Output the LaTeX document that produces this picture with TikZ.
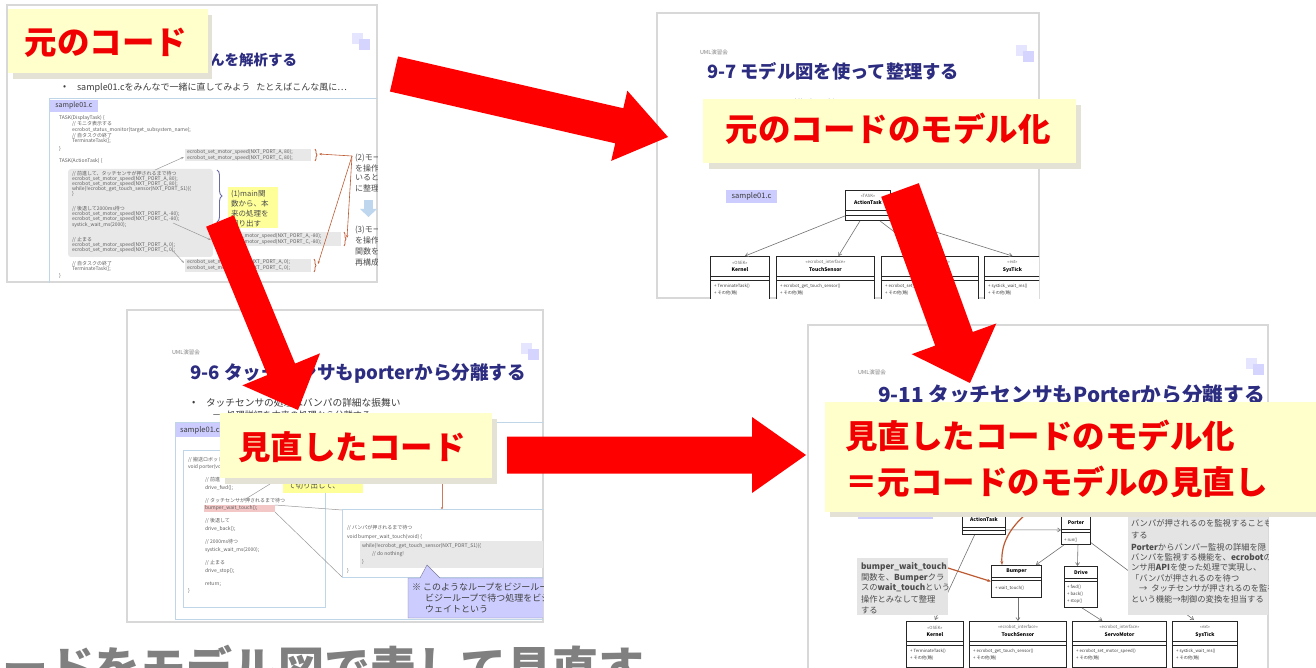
\documentclass[tikz,border=0pt]{standalone}
\usepackage{fontspec}
\setmainfont{Noto Sans CJK JP}
\usetikzlibrary{calc,arrows.meta,decorations.pathreplacing}
\definecolor{arrowred}{RGB}{255,0,0}
\definecolor{lblyellow}{RGB}{255,255,204}
\definecolor{lblshadow}{RGB}{228,226,212}
\definecolor{lbltext}{RGB}{240,0,0}
\definecolor{framegray}{RGB}{216,216,216}
\definecolor{navy}{RGB}{44,44,128}
\definecolor{codegray}{RGB}{95,95,95}
\definecolor{bodytext}{RGB}{60,60,60}
\definecolor{codebox}{RGB}{190,214,232}
\definecolor{codefill}{RGB}{232,232,232}
\definecolor{lav}{RGB}{204,204,255}
\definecolor{notey}{RGB}{255,255,153}
\definecolor{notegray}{RGB}{228,228,228}
\definecolor{rust}{RGB}{190,90,50}
\definecolor{iconblue}{RGB}{190,215,238}
\definecolor{pinkhl}{RGB}{244,199,199}
\definecolor{titlegray}{RGB}{128,128,128}
\newcounter{tn}
\newcommand\puttext[4][]{\stepcounter{tn}\node[tx,#1] (n\arabic{tn}) at (#2,#3) {#4};}
\newcommand\cl[3]{\puttext[code]{#1}{#2}{#3}}
\newcommand\decor[2]{\fill[lav!50] (#1,#2) rectangle ++(11,11); \fill[lav!85] ($(#1,#2)+(7,6)$) rectangle ++(11,11);}
\newcommand\blockarrow[5]{%
  \coordinate (#1-s) at ($(#2)!#5!(#1)$);
  \fill[arrowred] ($(#1)!#3!90:(#2)$) -- ($(#1-s)!#3!90:(#2)$) -- ($(#1-s)!#4!90:(#2)$) -- (#2)
    -- ($(#1-s)!#4!-90:(#2)$) -- ($(#1-s)!#3!-90:(#2)$) -- ($(#1)!#3!-90:(#2)$) -- cycle;}
\newcommand\umlclass[9]{%
  \node[umlbox, minimum width=#4, minimum height=#5, anchor=north west] (#1) at (#2,#3) {};
  \node[umlst] (#1-st) at ($(#1.north)+(0,6.5)$) {#6};
  \node[umlnm] (#1-nm) at ($(#1.north)+(0,14)$) {#7};
  \draw[umlsep] ($(#1.north west)+(0,20)$) -- ($(#1.north east)+(0,20)$);
  \draw[umlsep] ($(#1.north west)+(0,24)$) -- ($(#1.north east)+(0,24)$);
  \node[umlop] (#1-o1) at ($(#1.north west)+(4,30)$) {#8};
  \node[umlop] (#1-o2) at ($(#1.north west)+(4,37)$) {#9};}
\tikzset{
  tx/.style={inner sep=0pt, outer sep=0pt, anchor=west},
  code/.style={font=\fontsize{5}{5}\selectfont, text=codegray},
  bodytx/.style={text=bodytext},
  stitle/.style={text=navy, font=\bfseries\fontsize{18.3}{20}\selectfont},
  smalltxt/.style={text=black!50, font=\fontsize{5.5}{6}\selectfont},
  umlbox/.style={draw=black!85, line width=0.9pt, fill=white, inner sep=0pt},
  umlst/.style={inner sep=0pt, font=\fontsize{4.3}{5}\selectfont, text=black!60},
  umlnm/.style={inner sep=0pt, font=\bfseries\fontsize{5}{6}\selectfont},
  umlop/.style={inner sep=0pt, anchor=west, font=\fontsize{4.3}{5}\selectfont, text=black!75},
  umlsep/.style={black!85, line width=0.6pt},
  umlarr/.style={draw=black!55, line width=0.6pt, -{Straight Barb[length=3pt,width=4pt]}},
  conn/.style={draw=black!40, line width=0.5pt},
  slideframe/.style={draw=framegray, line width=1.3pt, fill=white},
  codeborder/.style={draw=codebox, line width=1pt},
  lblbox/.style={fill=lblyellow, inner sep=0pt},
  lblshade/.style={fill=lblshadow},
  lbltx/.style={inner sep=0pt, text=lbltext, font=\bfseries\fontsize{32.5}{44}\selectfont},
  notetx/.style={font=\fontsize{8.3}{9}\selectfont, text=black!70},
}
\begin{document}
\begin{tikzpicture}[x=1pt,y=-1pt]
\useasboundingbox (0,0) rectangle (1316,668);
\fill[white] (0,0) rectangle (1316,668);

% ================= Slide 1 =================
\draw[slideframe] (7,5) rectangle (377,282);
\begin{scope}
\clip (7,5) rectangle (377,282);
\decor{352}{33}
\puttext[stitle, font=\bfseries\fontsize{14.5}{16}\selectfont, anchor=east]{297}{60}{んを解析する}
\puttext[bodytx, font=\fontsize{9}{10}\selectfont]{63}{88}{•}
\puttext[bodytx, font=\fontsize{9}{10}\selectfont]{77}{88}{sample01.cをみんなで一緒に直してみよう\hspace{6pt}たとえばこんな風に…}
\draw[codeborder] (49,99) rectangle (385,300);
\fill[lav] (50,100) rectangle (98,112);
\puttext[bodytx, anchor=center, font=\fontsize{7}{8}\selectfont]{74}{106}{sample01.c}
\cl{59}{118}{TASK(DisplayTask) \{}
\cl{72}{124}{// モニタ表示する}
\cl{72}{130}{ecrobot\_status\_monitor(target\_subsystem\_name);}
\cl{72}{136}{// 自タスクの終了}
\cl{72}{141}{TerminateTask();}
\cl{59}{149}{\}}
\cl{59}{161}{TASK(ActionTask) \{}
\fill[codefill, rounded corners=3pt] (68,169) rectangle (213,257);
\cl{72}{174}{// 前進して、タッチセンサが押されるまで待つ}
\cl{72}{179}{ecrobot\_set\_motor\_speed(NXT\_PORT\_A, 80);}
\cl{72}{184}{ecrobot\_set\_motor\_speed(NXT\_PORT\_C, 80);}
\cl{72}{189}{while(!ecrobot\_get\_touch\_sensor(NXT\_PORT\_S1))\{}
\cl{72}{194}{\}}
\cl{72}{209}{// 後退して2000ms待つ}
\cl{72}{214}{ecrobot\_set\_motor\_speed(NXT\_PORT\_A, -80);}
\cl{72}{219}{ecrobot\_set\_motor\_speed(NXT\_PORT\_C, -80);}
\cl{72}{225}{systick\_wait\_ms(2000);}
\cl{72}{240}{// 止まる}
\cl{72}{245}{ecrobot\_set\_motor\_speed(NXT\_PORT\_A, 0);}
\cl{72}{250}{ecrobot\_set\_motor\_speed(NXT\_PORT\_C, 0);}
\cl{72}{264}{// 自タスクの終了}
\cl{72}{269}{TerminateTask();}
\cl{59}{276}{\}}
% snippets
\fill[codefill] (185,149) rectangle (311,161);
\cl{187}{152}{ecrobot\_set\_motor\_speed(NXT\_PORT\_A, 80);}
\cl{187}{158}{ecrobot\_set\_motor\_speed(NXT\_PORT\_C, 80);}
\draw[rust, line width=0.8pt, decorate, decoration={brace, amplitude=2pt}] (315,149) -- (315,161);
\fill[codefill] (210,232) rectangle (341,246);
\cl{214}{236}{ecrobot\_set\_motor\_speed(NXT\_PORT\_A, -80);}
\cl{214}{242}{ecrobot\_set\_motor\_speed(NXT\_PORT\_C, -80);}
\draw[rust, line width=0.8pt, decorate, decoration={brace, amplitude=2pt}] (344,232) -- (344,246);
\fill[codefill] (185,259) rectangle (311,272);
\cl{187}{262}{ecrobot\_set\_motor\_speed(NXT\_PORT\_A, 0);}
\cl{187}{268}{ecrobot\_set\_motor\_speed(NXT\_PORT\_C, 0);}
\draw[rust, line width=0.8pt, decorate, decoration={brace, amplitude=2pt}] (314,259) -- (314,272);
\draw[conn, -{Stealth[length=3pt]}] (155,170) -- (184,157);
\draw[conn, -{Stealth[length=3pt]}] (173,223) -- (211,240);
\draw[conn, -{Stealth[length=3pt]}] (172,250) -- (184,263);
\draw[draw=navy!70, line width=0.9pt, decorate, decoration={brace, amplitude=5pt}] (217,170) -- (217,222);
\fill[notey] (228,187) rectangle (278,228);
\puttext[notetx, font=\fontsize{7.5}{8}\selectfont]{231}{194}{(1)main関}
\puttext[notetx, font=\fontsize{7.5}{8}\selectfont]{231}{204}{数から、本}
\puttext[notetx, font=\fontsize{7.5}{8}\selectfont]{231}{214}{来の処理を}
\puttext[notetx, font=\fontsize{7.5}{8}\selectfont]{231}{224}{切り出す}
\draw[rust, line width=0.6pt, -{Stealth[length=3pt]}] (352,156) -- (319,154);
\draw[rust, line width=0.6pt, -{Stealth[length=3pt]}] (352,156) -- (347,238);
\draw[rust, line width=0.6pt, -{Stealth[length=3pt]}] (352,156) -- (318,264);
\puttext[notetx, font=\fontsize{8}{9}\selectfont]{355}{158}{(2)モータ}
\puttext[notetx, font=\fontsize{8}{9}\selectfont]{355}{168}{を操作して}
\puttext[notetx, font=\fontsize{8}{9}\selectfont]{355}{178}{いると}
\puttext[notetx, font=\fontsize{8}{9}\selectfont]{355}{188}{に整理}
\fill[iconblue] (364,200) rectangle (373,209);
\fill[iconblue] (360,209) -- (377,209) -- (368.5,217) -- cycle;
\puttext[notetx, font=\fontsize{8}{9}\selectfont]{355}{230}{(3)モータ}
\puttext[notetx, font=\fontsize{8}{9}\selectfont]{355}{240}{を操作する}
\puttext[notetx, font=\fontsize{8}{9}\selectfont]{355}{251}{関数を}
\puttext[notetx, font=\fontsize{8}{9}\selectfont]{355}{262}{再構成}
\end{scope}

% ================= Slide 2 =================
\draw[slideframe] (657,13) rectangle (1039,298);
\begin{scope}
\clip (657,13) rectangle (1039,298);
\puttext[smalltxt]{700}{52}{UML演習会}
\puttext[stitle]{707}{71}{9-7 モデル図を使って整理する}
\decor{1016}{45}
\puttext[bodytx, font=\fontsize{11}{12}\selectfont]{712}{105}{•\hspace{8pt}sample01.cの構造を整理してみる}
\fill[lav] (726,190) rectangle (777,203);
\puttext[bodytx, anchor=center, font=\fontsize{7.5}{8}\selectfont]{751.5}{196.5}{sample01.c}
\node[umlbox, minimum width=45, minimum height=30, anchor=north west] (AT2) at (845,190) {};
\node[umlst] (AT2-st) at ($(AT2.north)+(0,5.5)$) {<<TASK>>};
\node[umlnm] (AT2-nm) at ($(AT2.north)+(0,12.5)$) {ActionTask};
\draw[umlsep] ($(AT2.north west)+(0,20)$) -- ($(AT2.north east)+(0,20)$);
\draw[umlsep] ($(AT2.north west)+(0,25)$) -- ($(AT2.north east)+(0,25)$);
\umlclass{K2}{710}{256}{59}{47}{<<OSEK>>}{Kernel}{+ TerminateTask()}{+ その他(略)}
\umlclass{T2}{776}{256}{98}{47}{<<ecrobot\_interface>>}{TouchSensor}{+ ecrobot\_get\_touch\_sensor()}{+ その他(略)}
\umlclass{M2}{881}{256}{97}{47}{<<ecrobot\_interface>>}{ServoMotor}{+ ecrobot\_set\_motor\_speed()}{+ その他(略)}
\umlclass{Y2}{984}{256}{56}{47}{<<ext>>}{SysTick}{+ systick\_wait\_ms()}{+ その他(略)}
\draw[umlarr] ($(AT2.south west)+(0,-5)$) -- ($(K2.north)+(5,0)$);
\draw[umlarr] ($(AT2.south west)+(15,0)$) -- ($(T2.north)+(13,0)$);
\draw[umlarr] ($(AT2.south)+(12,0)$) -- ($(M2.north)+(-4,0)$);
\draw[umlarr] ($(AT2.south east)+(0,-3)$) -- (Y2.north);
\end{scope}

% ================= Slide 3 =================
\draw[slideframe] (127,310) rectangle (543,622);
\begin{scope}
\clip (127,310) rectangle (543,622);
\puttext[smalltxt]{172}{352}{UML演習会}
\puttext[stitle, font=\bfseries\fontsize{18.6}{20}\selectfont]{190}{373}{9-6 タッチセンサもporterから分離する}
\decor{521}{343}
\puttext[bodytx, font=\fontsize{9.7}{10}\selectfont]{192}{403}{•}
\puttext[bodytx, font=\fontsize{9.7}{10}\selectfont]{206}{403}{タッチセンサの処理はバンパの詳細な振舞い}
\puttext[bodytx, font=\fontsize{9}{10}\selectfont]{212}{415}{－\hspace{6pt}処理詳細を本来の処理から分離する}
\draw[codeborder] (175,422) rectangle (560,619);
\fill[lav] (176,423) rectangle (226,437);
\puttext[bodytx, font=\fontsize{7.5}{8}\selectfont]{180}{430}{sample01.c}
\draw[codeborder, line width=0.8pt] (183,450) rectangle (325,607);
\cl{188}{460}{// 搬送ロボット}
\cl{188}{467}{void porter(void) \{}
\cl{205}{480}{// 前進}
\cl{205}{488}{drive\_fwd();}
\cl{205}{501}{// タッチセンサが押されるまで待つ}
\fill[pinkhl] (204,504.5) rectangle (275,511.5);
\cl{205}{508}{bumper\_wait\_touch();}
\cl{205}{521}{// 後退して}
\cl{205}{529}{drive\_back();}
\cl{205}{542}{// 2000ms待つ}
\cl{205}{550}{systick\_wait\_ms(2000);}
\cl{205}{563}{// 止まる}
\cl{205}{571}{drive\_stop();}
\cl{205}{584}{return;}
\cl{188}{591}{\}}
\fill[notey] (283,479) rectangle (363,493);
\puttext[notetx, font=\fontsize{7.5}{8}\selectfont]{288}{486}{て切り出して、}
\draw[conn] (244,500) -- (270,484);
\draw[draw=rust!80, line width=0.7pt] (442,483) -- (442,508);
\fill[rust!80] (442,508) circle (1.2);
\draw[conn] (275,505) -- (342,510);
\draw[conn] (275,512) -- (342,577);
\draw[codeborder, line width=0.8pt] (342,509) rectangle (560,577);
\cl{347}{528}{// バンパが押されるまで待つ}
\cl{347}{537}{void bumper\_wait\_touch(void) \{}
\fill[codefill] (360,541) rectangle (560,568);
\cl{362}{546}{while(!ecrobot\_get\_touch\_sensor(NXT\_PORT\_S1))\{}
\cl{372}{554}{// do nothing!}
\cl{362}{562}{\}}
\cl{347}{571}{\}}
\fill[lav, draw=lav!60!black] (408,578) -- (420,578) -- (427,565) -- (440,578) -- (560,578) -- (560,618) -- (408,618) -- cycle;
\puttext[notetx, font=\fontsize{9}{10}\selectfont, text=black!75]{412}{587}{※ このようなループをビジーループ、}
\puttext[notetx, font=\fontsize{9}{10}\selectfont, text=black!75]{425}{598}{ビジーループで待つ処理をビジー}
\puttext[notetx, font=\fontsize{9}{10}\selectfont, text=black!75]{425}{609}{ウェイトという}
\end{scope}

% ================= Slide 4 =================
\draw[slideframe] (808,325) rectangle (1268,690);
\begin{scope}
\clip (808,325) rectangle (1268,668);
\puttext[smalltxt]{858}{372}{UML演習会}
\puttext[stitle, font=\bfseries\fontsize{20.7}{22}\selectfont]{878}{395}{9-11 タッチセンサもPorterから分離する}
\decor{1246}{358}
\fill[lav] (858,505) rectangle (933,519);
% UML
\draw[umlarr] (975,534) -- (935,620);
\draw[umlarr] (1090,542) -- (1194,620);
\node[umlbox, minimum width=43, minimum height=30, anchor=north west] (AT4) at (962,504) {};
\node[umlnm] (AT4-nm) at ($(AT4.north)+(0,15.5)$) {ActionTask};
\draw[umlsep] ($(AT4.north west)+(0,23)$) -- ($(AT4.north east)+(0,23)$);
\draw[umlsep] ($(AT4.north west)+(0,26)$) -- ($(AT4.north east)+(0,26)$);
\node[umlbox, minimum width=29, minimum height=39, anchor=north west] (P4) at (1061,505) {};
\node[umlnm] (P4-nm) at ($(P4.north)+(0,18)$) {Porter};
\draw[umlsep] ($(P4.north west)+(0,24)$) -- ($(P4.north east)+(0,24)$);
\draw[umlsep] ($(P4.north west)+(0,27)$) -- ($(P4.north east)+(0,27)$);
\node[umlop] (P4-o1) at ($(P4.north west)+(3,35)$) {+ run()};
\node[umlbox, minimum width=50, minimum height=32, anchor=north west] (B4) at (991,565) {};
\node[umlnm] (B4-nm) at ($(B4.north)+(0,6)$) {Bumper};
\draw[umlsep] ($(B4.north west)+(0,12.5)$) -- ($(B4.north east)+(0,12.5)$);
\draw[umlsep] ($(B4.north west)+(0,15.5)$) -- ($(B4.north east)+(0,15.5)$);
\node[umlop] (B4-o1) at ($(B4.north west)+(4,23)$) {+ wait\_touch()};
\node[umlbox, minimum width=33, minimum height=41, anchor=north west] (D4) at (1064,566) {};
\node[umlnm] (D4-nm) at ($(D4.north)+(0,6.5)$) {Drive};
\draw[umlsep] ($(D4.north west)+(0,12.5)$) -- ($(D4.north east)+(0,12.5)$);
\draw[umlsep] ($(D4.north west)+(0,15.5)$) -- ($(D4.north east)+(0,15.5)$);
\node[umlop] (D4-o1) at ($(D4.north west)+(3,21.5)$) {+ fwd()};
\node[umlop] (D4-o2) at ($(D4.north west)+(3,28.5)$) {+ back()};
\node[umlop] (D4-o3) at ($(D4.north west)+(3,35.5)$) {+ stop()};
\umlclass{K4}{906}{621}{57}{46}{<<OSEK>>}{Kernel}{+ TerminateTask()}{+ その他(略)}
\umlclass{T4}{969}{621}{97}{46}{<<ecrobot\_interface>>}{TouchSensor}{+ ecrobot\_get\_touch\_sensor()}{+ その他(略)}
\umlclass{M4}{1072}{621}{94}{46}{<<ecrobot\_interface>>}{ServoMotor}{+ ecrobot\_set\_motor\_speed()}{+ その他(略)}
\umlclass{Y4}{1172}{621}{65}{46}{<<ext>>}{SysTick}{+ systick\_wait\_ms()}{+ その他(略)}
\draw[umlarr] ($(AT4.south east)+(0,-5)$) -- ($(P4.west)+(0,5)$);
\draw[umlarr] ($(P4.south west)+(3,0)$) -- ($(B4.north east)+(-6,0)$);
\draw[umlarr] ($(P4.south)+(2,0)$) -- ($(D4.north)+(-3.5,0)$);
\draw[umlarr] (B4.south -| T4.north) -- (T4.north);
\draw[umlarr] ($(D4.south)+(1,0)$) -- ($(M4.north)+(-17,0)$);
\draw[draw=rust, line width=1.2pt, -{Stealth[length=4pt]}] ($(AT4.north east)+(20,10)$) .. controls (1008,530) and (1001,545) .. ($(B4.north west)+(11,0)$);
% notes
\fill[notegray] (857,558) rectangle (948,615);
\puttext[notetx, font=\bfseries\fontsize{8.3}{9}\selectfont]{861}{567}{bumper\_wait\_touch}
\puttext[notetx]{861}{578}{関数を、\textbf{Bumper}クラ}
\puttext[notetx]{861}{588}{スの\textbf{wait\_touch}という}
\puttext[notetx]{861}{599}{操作とみなして整理}
\puttext[notetx]{861}{610}{する}
\draw[draw=rust, line width=1.2pt, -{Stealth[length=4pt]}] (948,568) -- (B4.west);
\fill[notegray] (1128,513) rectangle (1275,615);
\puttext[notetx]{1131}{523}{バンパが押されるのを監視することも}
\puttext[notetx]{1131}{535}{する}
\puttext[notetx]{1131}{547}{\textbf{Porter}からバンパー監視の詳細を隠}
\puttext[notetx]{1131}{557}{バンパを監視する機能を、\textbf{ecrobot}の}
\puttext[notetx]{1131}{567}{ンサ用\textbf{API}を使った処理で実現し、}
\puttext[notetx]{1131}{578}{「バンパが押されるのを待つ}
\puttext[notetx]{1131}{588}{\hspace{8pt}→\hspace{4pt}タッチセンサが押されるのを監視}
\puttext[notetx]{1131}{599}{という機能→制御の変換を担当する}
\end{scope}

% ================= Labels =================
\fill[lblshade] (13,15) rectangle (212,79);
\node[lblbox, minimum width=200, minimum height=64, anchor=north west] (L1) at (8,9) {};
\node[lbltx] (L1t) at (106,43) {元のコード};
\fill[lblshade] (709,105) rectangle (1081,169);
\node[lblbox, minimum width=373, minimum height=64, anchor=north west] (L2) at (703,99) {};
\node[lbltx] (L2t) at (888,129) {元のコードのモデル化};
\fill[lblshade] (225,419) rectangle (497,484);
\node[lblbox, minimum width=272, minimum height=65, anchor=north west] (L3) at (220,413) {};
\node[lbltx] (L3t) at (352,447) {見直したコード};
\fill[lblshade] (830,408) rectangle (1316,517);
\node[lblbox, minimum width=491, minimum height=110, anchor=north west] (L4) at (825,402) {};
\node[lbltx, anchor=west] (L4a) at (845,436) {見直したコードのモデル化};
\node[lbltx, anchor=west] (L4b) at (845,482) {＝元コードのモデルの見直し};

% bottom title (cut off by the page edge, as in the reference)
\node[inner sep=0pt, anchor=base west, text=titlegray, font=\bfseries\fontsize{46}{50}\selectfont] (BT) at (-44,685) {コードをモデル図で表して見直す};

% ================= Red arrows =================
\coordinate (aT) at (394,74);  \coordinate (aH) at (668,137);
\coordinate (bT) at (220,221); \coordinate (bH) at (298,410);
\coordinate (cT) at (507,455); \coordinate (cH) at (806,455);
\coordinate (dT) at (900,190); \coordinate (dH) at (970,383);
\blockarrow{aT}{aH}{18pt}{36pt}{50pt}
\blockarrow{bT}{bH}{15pt}{42pt}{44pt}
\blockarrow{cT}{cH}{18.5pt}{38pt}{54pt}
\blockarrow{dT}{dH}{20pt}{45pt}{47pt}
\end{tikzpicture}
\end{document}
